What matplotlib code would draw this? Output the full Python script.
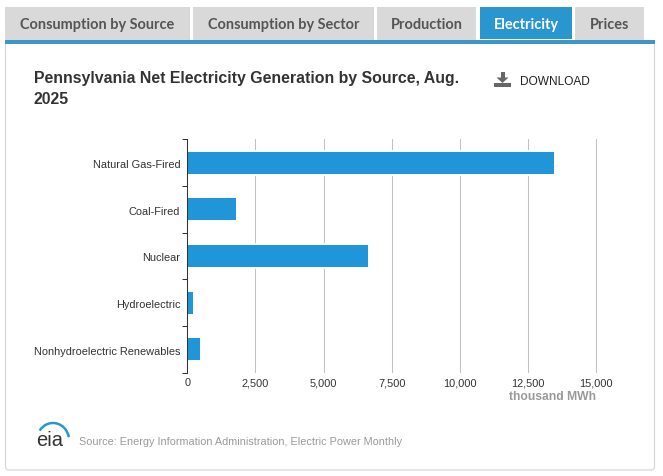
import numpy as np
import matplotlib
matplotlib.use('Agg')
import matplotlib.pyplot as plt
from matplotlib.patches import Rectangle, FancyBboxPatch, Arc, Polygon

# Data
#####################################################
sources = ['Natural Gas-Fired', 'Coal-Fired', 'Nuclear', 'Hydroelectric',
           'Nonhydroelectric Renewables']
generation = [13460, 1790, 6630, 200, 470]
xticks = [0, 2500, 5000, 7500, 10000, 12500, 15000]

tab_names = ['Consumption by Source', 'Consumption by Sector', 'Production',
             'Electricity', 'Prices']
tab_left = [5, 193, 377, 480, 575]
tab_right = [189.5, 374, 476, 572, 644]

W, H = 663, 477
plt.rcParams['font.family'] = ['Liberation Sans', 'DejaVu Sans']

fig = plt.figure(figsize=(W/100, H/100), dpi=100)

# Page furniture, in pixel coordinates
#####################################################
bg = fig.add_axes([0, 0, 1, 1])
bg.set_xlim(0, W)
bg.set_ylim(H, 0)
bg.axis('off')

blue = '#2a96d0'
bg.add_patch(FancyBboxPatch((5.5, 43), 649, 428, boxstyle='round,pad=0,rounding_size=4',
                            fc='white', ec='#d4d4d4', lw=0.8))
bg.add_patch(Rectangle((5, 41), 650, 4, fc='#3d96c8', ec='none'))
for name, l, r in zip(tab_names, tab_left, tab_right):
    active = name == 'Electricity'
    bg.add_patch(Rectangle((l, 8), r-l, 33, fc='#d9d9d9', ec='none'))
    if active:
        bg.add_patch(Rectangle((l-1, 8), r-l+2, 33, fc='white', ec='none'))
        bg.add_patch(Rectangle((l, 8), r-l, 32, fc=blue, ec='none'))
    bg.text((l+r)/2, 25, name, ha='center', va='center', fontsize=10.45, fontweight='bold',
            family=['Lato', 'DejaVu Sans'], color='white' if active else '#555555')

bg.text(34, 83, 'Pennsylvania Net Electricity Generation by Source, Aug.', fontsize=11.48,
        fontweight='bold', color='#333333', va='baseline')
bg.text(34, 103.5, '2025', fontsize=11.48, fontweight='bold', color='#333333', va='baseline')

# download icon
bg.add_patch(Rectangle((494, 84), 17, 4, fc='#666666', ec='none'))
bg.add_patch(Rectangle((500.5, 73), 4, 7, fc='#666666', ec='none'))
bg.add_patch(Polygon([(496.5, 78.5), (508.5, 78.5), (502.5, 84)], fc='#666666', ec='none'))
bg.text(520, 82, 'DOWNLOAD', fontsize=8.6, color='#222222', va='center')

# eia logo
bg.text(36, 446, 'eia', fontsize=14.5, color='#333333', va='baseline')
bg.add_patch(Arc((53, 441), 32, 34, theta1=215, theta2=350, ec=blue, lw=1.8))
bg.text(79, 442, 'Source: Energy Information Administration, Electric Power Monthly',
        fontsize=7.87, color='#999999', va='center')

# Chart
#####################################################
left, right = 187.3, 596.0
top, bottom = 140.3, 373.5
ax = fig.add_axes([left/W, 1-bottom/H, (right-left+8)/W, (bottom-top)/H])
ax.patch.set_alpha(0)

y = np.arange(len(sources))
# white halo breaks the gridlines around each bar
ax.barh(y, generation, height=0.56, left=0, color='white', zorder=2)
ax.barh(y, generation, height=0.47, color='#2095d8', zorder=3)

ax.set_xlim(0, 15000*(right-left+8)/(right-left))
ax.set_ylim(len(sources)-0.5, -0.5)
ax.set_xticks(xticks)
ax.set_xticklabels(['{:,}'.format(v) for v in xticks], fontsize=7.9, color='#333333')
ax.set_yticks(np.arange(len(sources)+1)-0.5)
ax.set_yticklabels([])
ax.tick_params(axis='x', length=0, pad=3.5)
ax.tick_params(axis='y', length=3.4, width=0.75, color='#333333', left=True)
ax.xaxis.grid(True, color='#c0c0c0', lw=0.75, zorder=1)
ax.set_axisbelow(True)

for side in ['top', 'right', 'bottom']:
    ax.spines[side].set_visible(False)
ax.spines['left'].set_color('#333333')
ax.spines['left'].set_linewidth(0.75)
ax.spines['left'].set_zorder(5)

for i, name in enumerate(sources):
    ax.annotate(name, (0, i), xycoords=('data', 'data'), xytext=(-7, -1.5),
                textcoords='offset pixels', ha='right', va='center', fontsize=7.95,
                color='#333333', annotation_clip=False)

bg.text(596, 397.5, 'thousand MWh', ha='right', va='center', fontsize=8.7, fontweight='bold',
        color='#999999')

fig.savefig('out.png', dpi=100)
